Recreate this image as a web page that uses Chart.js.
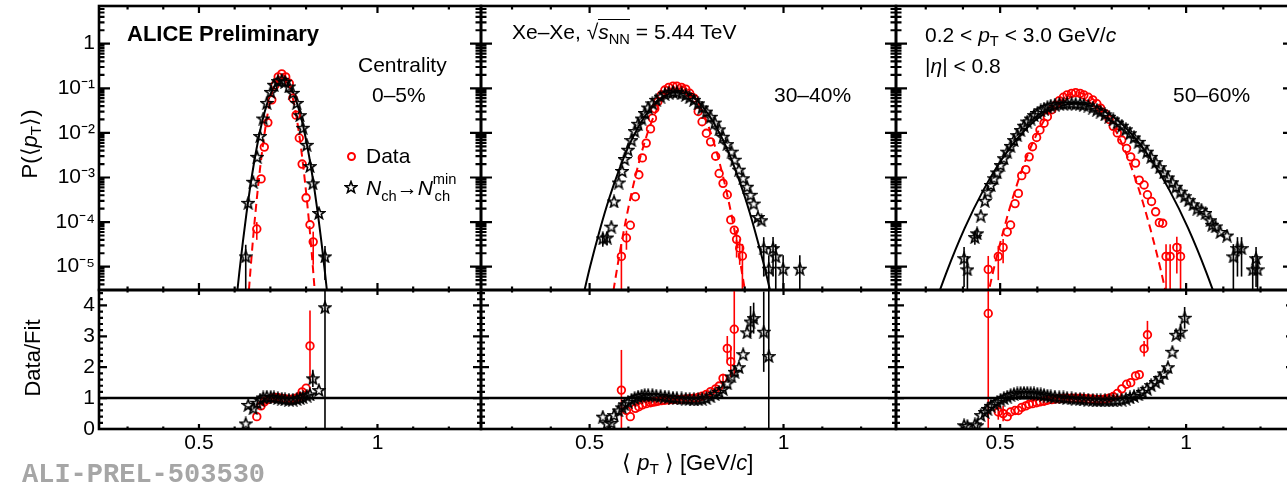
<!DOCTYPE html>
<html>
<head>
<meta charset="utf-8">
<script src="https://cdn.jsdelivr.net/npm/chart.js@4.4.1/dist/chart.umd.min.js"></script>
<style>
html, body { margin: 0; padding: 0; background: #fff; overflow: hidden; width: 1287px; height: 485px; }
#wrap { position: relative; width: 1287px; height: 485px; overflow: hidden;
        font-family: "Liberation Sans", Arial, Helvetica, sans-serif; color: #000; }
canvas.panel { position: absolute; left: -30px; top: -30px; width: 1360px; height: 545px; }
.t { position: absolute; white-space: nowrap; line-height: 1; font-size: 21px; }
.t sub, .t sup { line-height: 0; font-size: 70%; }
.t sub { vertical-align: -4px; }
.t sup { vertical-align: 11px; }
.rot { position: absolute; white-space: nowrap; line-height: 1; font-size: 22px;
       transform: translate(-50%, -50%) rotate(-90deg); }
.rot sub { line-height: 0; font-size: 70%; vertical-align: -4px; }
</style>
</head>
<body>
<div id="wrap">
  <canvas class="panel" id="c0top" width="1360" height="545"></canvas>
  <canvas class="panel" id="c0rat" width="1360" height="545"></canvas>
  <canvas class="panel" id="c3top" width="1360" height="545"></canvas>
  <canvas class="panel" id="c3rat" width="1360" height="545"></canvas>
  <canvas class="panel" id="c5top" width="1360" height="545"></canvas>
  <canvas class="panel" id="c5rat" width="1360" height="545"></canvas>

  <div class="t" style="left:127px; top:23px; font-size:22px; font-weight:bold;">ALICE Preliminary</div>
  <div class="t" style="left:358px; top:54px;">Centrality</div>
  <div class="t" style="left:372px; top:84px;">0–5%</div>
  <div id="legCircle" style="position:absolute; left:346.5px; top:151.5px; width:9px; height:9px; box-sizing:border-box; border:2px solid #f00; border-radius:50%;"></div>
  <div class="t" style="left:366px; top:145px;">Data</div>
  <div id="legStar" style="position:absolute; left:344px; top:180px; width:14px; height:14px;"></div>
  <div class="t" style="left:366px; top:177px;"><i>N</i><sub style="vertical-align:-6px">ch</sub>→<i>N</i><sup>min</sup><sub style="vertical-align:-6px; margin-left:-22px">ch</sub></div>

  <div class="t" style="left:512px; top:21px;">Xe–Xe, √<span style="border-top:1.5px solid #000;"><i>s</i><sub style="vertical-align:-5px">NN</sub></span> = 5.44 TeV</div>
  <div class="t" style="left:774px; top:84px;">30–40%</div>

  <div class="t" style="left:925px; top:24px;">0.2 &lt; <i>p</i><sub>T</sub> &lt; 3.0 GeV/<i>c</i></div>
  <div class="t" style="left:925px; top:55px;">|<i>η</i>| &lt; 0.8</div>
  <div class="t" style="left:1173px; top:84px;">50–60%</div>

  <div class="rot" style="left:30px; top:144px;">P(⟨<i>p</i><sub>T</sub>⟩)</div>
  <div class="rot" style="left:33px; top:358px;">Data/Fit</div>
  <div class="t" style="left:622px; top:452px; font-size:22px;">⟨ <i>p</i><sub>T</sub> ⟩ [GeV/<i>c</i>]</div>
  <div class="t" style="left:22px; top:462px; font-family:'Liberation Mono','Courier New',monospace; font-weight:bold; font-size:27px; color:#a6a6a6;">ALI-PREL-503530</div>
</div>

<script>
// ---- axis ranges and ticks ----
const X_MIN = 0.22, X_MAX = 1.29;
const Y_LOG_MIN = 3e-6, Y_LOG_MAX = 7;
const R_MIN = 0, R_MAX = 4.5;

const xTickVals = [0.5, 1];
const xTickLabels = ['0.5', '1'];
const xMinorTicks = [0.3, 0.4, 0.6, 0.7, 0.8, 0.9, 1.1, 1.2];
const logTickVals = [1, 0.1, 0.01, 0.001, 1e-4, 1e-5];
const logTickLabels = ['1', '10⁻¹', '10⁻²', '10⁻³', '10⁻⁴', '10⁻⁵'];
const ratioTickVals = [0, 1, 2, 3, 4];
const ratioTickLabels = ['0', '1', '2', '3', '4'];

// ---- 0-5% ----
const c0DataX = [0.662, 0.674, 0.683, 0.693, 0.704, 0.713, 0.722, 0.732, 0.743, 0.753, 0.763, 0.772, 0.781, 0.789, 0.800, 0.811, 0.820];
const c0DataY = [7e-5, 9.3e-4, 4.8e-3, 1.7e-2, 5.5e-2, 0.118, 0.18, 0.21, 0.18, 0.13, 0.06, 0.025, 7.7e-3, 2e-3, 3.5e-4, 8.7e-5, 3.6e-5];
const c0DataErr = {0: 3e-5, 16: 2.5e-5};
const c0DataRatio = [0.4, 0.75, 0.88, 0.95, 1.0, 1.02, 1.01, 0.99, 0.97, 0.96, 0.97, 1.0, 1.05, 1.2, 1.32, 2.69, 6.0];
const c0DataRatioErr = {15: 1.15};
const c0StarX = [0.631, 0.638, 0.652, 0.663, 0.671, 0.680, 0.690, 0.701, 0.710, 0.721, 0.732, 0.741, 0.752, 0.763, 0.774, 0.783, 0.791, 0.802, 0.811, 0.819, 0.836, 0.853];
const c0StarY = [1.7e-5, 2.7e-4, 8e-4, 2.9e-3, 8.5e-3, 0.021, 0.047, 0.083, 0.12, 0.145, 0.155, 0.14, 0.11, 0.079, 0.047, 0.025, 0.013, 5.4e-3, 1.8e-3, 7.4e-4, 1.6e-4, 1.7e-5];
const c0StarErr = {0: 1.4e-5, 21: 1.2e-5};
const c0StarRatio = [0.18, 0.78, 0.67, 0.85, 0.95, 1.02, 1.05, 1.04, 1.02, 1.0, 0.98, 0.96, 0.95, 0.95, 0.97, 1.0, 1.03, 1.08, 1.12, 1.64, 1.26, 3.94];
const c0StarRatioErr = {19: 0.28, 21: 6};
const c0FitX = [0.603, 0.613, 0.623, 0.633, 0.643, 0.653, 0.663, 0.673, 0.683, 0.693, 0.703, 0.713, 0.723, 0.733, 0.743, 0.753, 0.763, 0.773, 0.783, 0.793, 0.803, 0.813, 0.823, 0.833, 0.843, 0.853, 0.863];
const c0FitY = [1.3e-6, 7.4e-6, 3.6e-5, 1.55e-4, 5.75e-4, 1.86e-3, 5.2e-3, 0.0129, 0.0275, 0.051, 0.083, 0.117, 0.145, 0.155, 0.145, 0.117, 0.083, 0.051, 0.0275, 0.0129, 5.2e-3, 1.86e-3, 5.75e-4, 1.55e-4, 3.6e-5, 7.4e-6, 1.3e-6];
const c0RedFitX = [0.632, 0.642, 0.652, 0.662, 0.672, 0.682, 0.692, 0.702, 0.712, 0.722, 0.732, 0.742, 0.752, 0.762, 0.772, 0.782, 0.792, 0.802, 0.812, 0.822, 0.832];
const c0RedFitY = [4.1e-7, 4.9e-6, 4.7e-5, 3.3e-4, 1.82e-3, 7.8e-3, 0.0257, 0.0645, 0.123, 0.182, 0.209, 0.182, 0.123, 0.0645, 0.0257, 7.8e-3, 1.82e-3, 3.3e-4, 4.7e-5, 4.9e-6, 4.1e-7];

// ---- 30-40% ----
const c3DataX = [0.582, 0.595, 0.605, 0.618, 0.627, 0.636, 0.646, 0.657, 0.662, 0.668, 0.676, 0.685, 0.694, 0.704, 0.715, 0.725, 0.737, 0.748, 0.758, 0.769, 0.780, 0.790, 0.801, 0.812, 0.825, 0.834, 0.844, 0.855, 0.864, 0.873, 0.879, 0.887, 0.894];
const c3DataY = [1.7e-5, 4.4e-5, 8.5e-5, 3.7e-4, 1.15e-3, 2.75e-3, 5.9e-3, 0.0123, 0.0214, 0.0347, 0.05, 0.0708, 0.0912, 0.105, 0.112, 0.112, 0.105, 0.0955, 0.0776, 0.0603, 0.0302, 0.0178, 9.8e-3, 6.3e-3, 3e-3, 1.23e-3, 7.4e-4, 4.1e-4, 1.12e-4, 6.6e-5, 4.1e-5, 2.6e-5, 1.74e-5];
const c3DataErr = {0: 1.5e-5, 1: 2e-5, 30: 2.5e-5, 31: 1.5e-5, 32: 1.5e-5};
const c3DataRatio = [1.26, 0.6, 0.4, 0.67, 0.72, 0.78, 0.82, 0.85, 0.87, 0.88, 0.9, 0.92, 0.93, 0.94, 0.95, 0.96, 0.96, 0.97, 0.98, 1.0, 1.02, 1.06, 1.12, 1.21, 1.3, 1.39, 1.64, 2.61, 2.18, 3.23, 5.5, 7, 9];
const c3DataRatioErr = {0: 1.3, 26: 0.15, 27: 0.4, 28: 0.5, 29: 1.5};
const c3StarX = [0.534, 0.545, 0.556, 0.563, 0.575, 0.584, 0.590, 0.599, 0.608, 0.616, 0.625, 0.634, 0.642, 0.651, 0.662, 0.672, 0.683, 0.694, 0.704, 0.715, 0.725, 0.737, 0.748, 0.758, 0.769, 0.780, 0.790, 0.801, 0.812, 0.823, 0.834, 0.844, 0.855, 0.866, 0.874, 0.885, 0.896, 0.906, 0.915, 0.923, 0.934, 0.943, 0.949, 0.962, 0.973, 0.980, 0.999, 1.042];
const c3StarY = [4.3e-5, 4.5e-5, 7.9e-5, 2.9e-4, 7.7e-4, 1.4e-3, 2.6e-3, 4.2e-3, 6.9e-3, 0.011, 0.016, 0.021, 0.028, 0.037, 0.046, 0.055, 0.065, 0.074, 0.08, 0.083, 0.082, 0.077, 0.071, 0.063, 0.055, 0.046, 0.037, 0.03, 0.023, 0.017, 0.012, 8.2e-3, 5.6e-3, 3.8e-3, 2.5e-3, 1.5e-3, 9.6e-4, 6.2e-4, 4.1e-4, 2.6e-4, 1.3e-4, 1.1e-4, 2.6e-5, 9e-6, 2.6e-5, 1.7e-5, 9e-6, 9e-6];
const c3StarErr = {0: 1.5e-5, 1: 1.5e-5, 42: 2e-5, 43: 9e-6, 44: 2e-5, 45: 1.5e-5, 46: 9e-6, 47: 9e-6};
const c3StarRatio = [0.4, 0.18, 0.2, 0.45, 0.6, 0.7, 0.8, 0.88, 0.95, 1.0, 1.05, 1.08, 1.1, 1.1, 1.1, 1.08, 1.07, 1.05, 1.03, 1.01, 1.0, 0.99, 0.98, 0.97, 0.96, 0.96, 0.98, 1.0, 1.06, 1.13, 1.2, 1.3, 1.48, 1.7, 1.85, 2.0, 2.42, 3.13, 3.48, 3.59, 5.0, 6.0, 3.15, 2.36, 8, 9, 12, 30];
const c3StarRatioErr = {38: 0.5, 39: 0.5, 42: 1.3, 43: 6};
const c3FitX = [0.476, 0.501, 0.526, 0.551, 0.576, 0.601, 0.626, 0.651, 0.676, 0.701, 0.726, 0.751, 0.776, 0.801, 0.826, 0.851, 0.876, 0.901, 0.926, 0.951, 0.976];
const c3FitY = [1.15e-6, 9.8e-6, 6.5e-5, 3.5e-4, 1.48e-3, 5.1e-3, 0.0138, 0.0302, 0.0537, 0.0741, 0.0832, 0.0741, 0.0537, 0.0302, 0.0138, 5.1e-3, 1.48e-3, 3.5e-4, 6.5e-5, 9.8e-6, 1.15e-6];
const c3RedFitX = [0.556, 0.581, 0.606, 0.631, 0.656, 0.681, 0.706, 0.731, 0.756, 0.781, 0.806, 0.831, 0.856, 0.881, 0.906];
const c3RedFitY = [1.5e-6, 2.95e-5, 3.7e-4, 2.9e-3, 0.0145, 0.0447, 0.089, 0.112, 0.089, 0.0447, 0.0145, 2.9e-3, 3.7e-4, 2.95e-5, 1.5e-6];

// ---- 50-60% ----
const c5DataX = [0.468, 0.495, 0.508, 0.519, 0.528, 0.540, 0.549, 0.558, 0.569, 0.578, 0.587, 0.598, 0.607, 0.618, 0.627, 0.639, 0.649, 0.659, 0.670, 0.680, 0.692, 0.703, 0.715, 0.725, 0.737, 0.749, 0.760, 0.770, 0.782, 0.793, 0.804, 0.815, 0.827, 0.840, 0.851, 0.864, 0.874, 0.887, 0.896, 0.907, 0.918, 0.928, 0.937, 0.946, 0.957, 0.975, 0.985];
const c5DataY = [8.7e-6, 1.7e-5, 2.7e-5, 6e-5, 8.6e-5, 2.6e-4, 4.4e-4, 1.1e-3, 1.5e-3, 2.9e-3, 4.9e-3, 7.9e-3, 0.0116, 0.0165, 0.023, 0.033, 0.042, 0.053, 0.063, 0.071, 0.077, 0.08, 0.077, 0.071, 0.063, 0.055, 0.045, 0.036, 0.027, 0.02, 0.014, 0.01, 6.9e-3, 4.5e-3, 2.9e-3, 2.1e-3, 8.7e-4, 6.8e-4, 4.1e-4, 2.9e-4, 1.7e-4, 9.7e-5, 9.4e-5, 1.7e-5, 1.7e-5, 2.7e-5, 1.7e-5];
const c5DataErr = {0: 8.7e-6, 1: 1.2e-5, 2: 1.5e-5, 43: 1.5e-5, 44: 1.5e-5, 45: 2e-5, 46: 1.5e-5};
const c5DataRatio = [3.74, 0.55, 0.5, 0.4, 0.55, 0.6, 0.6, 0.7, 0.75, 0.8, 0.82, 0.85, 0.88, 0.9, 0.93, 0.95, 0.97, 0.98, 0.99, 1.0, 1.0, 1.0, 1.0, 0.99, 0.98, 0.97, 0.96, 0.96, 0.97, 1.0, 1.05, 1.15, 1.3, 1.45, 1.5, 1.72, 1.76, 2.6, 3.05, 5, 6, 8, 9, 10, 15, 20, 30];
const c5DataRatioErr = {0: 6, 1: 0.25, 2: 0.25, 37: 0.25, 38: 0.45};
const c5StarX = [0.403, 0.412, 0.432, 0.438, 0.448, 0.459, 0.466, 0.475, 0.484, 0.492, 0.501, 0.510, 0.519, 0.528, 0.537, 0.546, 0.555, 0.564, 0.573, 0.582, 0.591, 0.600, 0.609, 0.618, 0.627, 0.636, 0.647, 0.659, 0.670, 0.680, 0.692, 0.703, 0.715, 0.725, 0.737, 0.749, 0.760, 0.770, 0.782, 0.793, 0.804, 0.815, 0.827, 0.838, 0.849, 0.860, 0.872, 0.883, 0.895, 0.906, 0.918, 0.929, 0.940, 0.951, 0.963, 0.973, 0.985, 0.996, 1.007, 1.019, 1.030, 1.041, 1.052, 1.065, 1.070, 1.079, 1.092, 1.110, 1.127, 1.138, 1.149, 1.179, 1.188, 1.192];
const c5StarY = [1.55e-5, 8.7e-6, 4.6e-5, 5.6e-5, 1.4e-4, 3e-4, 4.8e-4, 6.8e-4, 9.6e-4, 1.3e-3, 1.9e-3, 2.7e-3, 3.8e-3, 5.1e-3, 6.9e-3, 8.9e-3, 0.0116, 0.0145, 0.018, 0.021, 0.025, 0.028, 0.032, 0.035, 0.038, 0.041, 0.043, 0.045, 0.045, 0.046, 0.046, 0.045, 0.045, 0.043, 0.041, 0.037, 0.033, 0.03, 0.026, 0.023, 0.02, 0.017, 0.0145, 0.012, 9.8e-3, 7.9e-3, 6.3e-3, 4.9e-3, 3.8e-3, 2.9e-3, 2.2e-3, 1.7e-3, 1.3e-3, 1e-3, 7.8e-4, 6.2e-4, 4.8e-4, 3.8e-4, 3.1e-4, 2.5e-4, 2e-4, 1.9e-4, 1.6e-4, 1.1e-4, 8.7e-5, 8e-5, 6e-5, 5e-5, 1.7e-5, 2.6e-5, 2.6e-5, 8.7e-6, 1.55e-5, 8.7e-6];
const c5StarErr = {0: 1.2e-5, 1: 8.7e-6, 2: 1.5e-5, 3: 1.5e-5, 68: 1.5e-5, 69: 2e-5, 70: 2e-5, 71: 8.7e-6, 72: 1.2e-5, 73: 8.7e-6};
const c5StarRatio = [0.12, 0.1, 0.15, 0.12, 0.45, 0.55, 0.65, 0.75, 0.82, 0.88, 0.95, 1.0, 1.05, 1.1, 1.13, 1.15, 1.17, 1.17, 1.17, 1.16, 1.15, 1.14, 1.12, 1.1, 1.08, 1.06, 1.05, 1.03, 1.02, 1.0, 0.99, 0.98, 0.97, 0.96, 0.95, 0.94, 0.93, 0.93, 0.93, 0.93, 0.93, 0.94, 0.95, 0.98, 1.02, 1.07, 1.12, 1.2, 1.3, 1.42, 1.52, 1.65, 1.8, 2.0, 2.5, 3.05, 3.15, 3.6, 4.8, 5.5, 6, 7, 8, 9, 10, 11, 12, 14, 16, 18, 20, 30, 35, 40];
const c5StarRatioErr = {56: 0.25, 57: 0.35};
const c5FitX = [0.305, 0.355, 0.405, 0.455, 0.505, 0.555, 0.605, 0.655, 0.705, 0.755, 0.805, 0.855, 0.905, 0.955, 1.005, 1.055, 1.105];
const c5FitY = [5e-7, 7.2e-6, 7.4e-5, 5.2e-4, 2.6e-3, 9.1e-3, 0.0224, 0.0382, 0.0457, 0.0382, 0.0224, 9.1e-3, 2.6e-3, 5.2e-4, 7.4e-5, 7.2e-6, 5e-7];
const c5RedFitX = [0.457, 0.482, 0.507, 0.532, 0.557, 0.582, 0.607, 0.632, 0.657, 0.682, 0.707, 0.732, 0.757, 0.782, 0.807, 0.832, 0.857, 0.882, 0.907, 0.932, 0.957];
const c5RedFitY = [9.5e-7, 8.3e-6, 5.6e-5, 3.1e-4, 1.35e-3, 4.7e-3, 0.0129, 0.0287, 0.0503, 0.0708, 0.0794, 0.0708, 0.0503, 0.0287, 0.0129, 4.7e-3, 1.35e-3, 3.1e-4, 5.6e-5, 8.3e-6, 9.5e-7];

// reference line in ratio panels
const unityX = [X_MIN, X_MAX];
const unityY = [1, 1];

// ---- layout (frame boxes in page pixels; canvases sit 30px up/left of the page) ----
const OFF = 30;
const CANVAS_W = 1360, CANVAS_H = 545;
const COLS = [[99, 481], [481, 896], [896, 1294]];
const TOP_ROW = [6, 290], RATIO_ROW = [290, 429];
const Y_AXIS_W = 70, X_AXIS_H = 34;
const RED = '#ff0000', BLACK = '#000000';

Chart.defaults.font.family = '"Liberation Sans", Arial, Helvetica, sans-serif';
Chart.defaults.font.size = 21;
Chart.defaults.color = '#000';

// open star marker
function makeStar() {
  const c = document.createElement('canvas');
  c.width = 14; c.height = 14;
  const g = c.getContext('2d');
  g.beginPath();
  for (let i = 0; i < 10; i++) {
    const r = i % 2 ? 2.5 : 6;
    const a = -Math.PI / 2 + i * Math.PI / 5;
    const px = 7 + r * Math.cos(a), py = 7.6 + r * Math.sin(a);
    if (i) g.lineTo(px, py); else g.moveTo(px, py);
  }
  g.closePath();
  g.lineWidth = 1.6;
  g.strokeStyle = BLACK;
  g.stroke();
  return c;
}
const STAR = makeStar();
document.getElementById('legStar').appendChild(makeStar());

function pts(xs, ys) { return xs.map((x, i) => ({x: x, y: ys[i]})); }

function markers(xs, ys, err, kind) {
  const star = kind === 'star';
  return {
    data: pts(xs, ys), errY: err || {}, showLine: false,
    pointStyle: star ? STAR : 'circle', pointRadius: star ? 5 : 3.8,
    pointBorderColor: star ? BLACK : RED, pointBackgroundColor: 'rgba(0,0,0,0)',
    pointBorderWidth: 1.8, borderColor: star ? BLACK : RED
  };
}

function curve(xs, ys, color, dash, width) {
  return {
    data: pts(xs, ys), showLine: true, pointRadius: 0, borderColor: color,
    borderWidth: width || 2, borderDash: dash || [], cubicInterpolationMode: 'monotone', fill: false
  };
}

// error bars read from dataset.errY
const errorBars = {
  id: 'errorBars',
  beforeDatasetsDraw(chart) {
    const {ctx, chartArea: a} = chart;
    const x = chart.scales.x, y = chart.scales.y;
    ctx.save();
    ctx.beginPath();
    ctx.rect(a.left, a.top, a.right - a.left, a.bottom - a.top);
    ctx.clip();
    chart.data.datasets.forEach(ds => {
      if (!ds.errY) return;
      ctx.strokeStyle = ds.pointBorderColor;
      ctx.lineWidth = 1.6;
      ds.data.forEach((p, i) => {
        const e = ds.errY[i];
        if (!e) return;
        const px = x.getPixelForValue(p.x);
        const lo = p.y - e;
        let yLo = (y.type === 'logarithmic' && lo <= 0) ? a.bottom + 2 : y.getPixelForValue(lo);
        let yHi = y.getPixelForValue(p.y + e);
        yLo = Math.min(yLo, a.bottom + 2);
        yHi = Math.max(yHi, a.top - 2);
        ctx.beginPath();
        ctx.moveTo(px, yLo);
        ctx.lineTo(px, yHi);
        ctx.stroke();
      });
    });
    ctx.restore();
  }
};

// frame with inward ticks on all four sides
function frameTicks(cfg) {
  return {
    id: 'frameTicks',
    afterDraw(chart) {
      const {ctx, chartArea: a} = chart;
      const x = chart.scales.x, y = chart.scales.y;
      ctx.save();
      ctx.strokeStyle = BLACK;
      ctx.lineWidth = 2.2;
      ctx.beginPath();
      const hx = (vals, len) => vals.forEach(v => {
        const p = x.getPixelForValue(v);
        ctx.moveTo(p, a.bottom); ctx.lineTo(p, a.bottom - len);
        ctx.moveTo(p, a.top); ctx.lineTo(p, a.top + len);
      });
      const vy = (vals, len) => vals.forEach(v => {
        const p = y.getPixelForValue(v);
        ctx.moveTo(a.left, p); ctx.lineTo(a.left + len, p);
        ctx.moveTo(a.right, p); ctx.lineTo(a.right - len, p);
      });
      hx(xTickVals, cfg.xMaj); hx(xMinorTicks, cfg.xMin);
      vy(cfg.yMajor, cfg.yMaj); vy(cfg.yMinor, cfg.yMin);
      ctx.stroke();
      ctx.lineWidth = 2.6;
      ctx.strokeRect(a.left, a.top, a.right - a.left, a.bottom - a.top);
      ctx.restore();
    }
  };
}

const logMinorTicks = [];
for (let e = -6; e <= 0; e++) {
  for (let k = 2; k <= 9; k++) {
    const v = k * Math.pow(10, e);
    if (v > Y_LOG_MIN && v < Y_LOG_MAX) logMinorTicks.push(v);
  }
}
const ratioMinorTicks = [];
for (let i = 1; i < 23; i++) if (i % 5) ratioMinorTicks.push(i / 5);

function panel(id, col, isTop, datasets) {
  const L = COLS[col][0] + OFF, R = COLS[col][1] + OFF;
  const T = (isTop ? TOP_ROW : RATIO_ROW)[0] + OFF, B = (isTop ? TOP_ROW : RATIO_ROW)[1] + OFF;
  const showY = col === 0, showX = !isTop;
  const yVals = isTop ? logTickVals : ratioTickVals;
  const yLabels = isTop ? logTickLabels : ratioTickLabels;
  const pad = {
    left: showY ? L - Y_AXIS_W : L,
    right: CANVAS_W - R,
    top: T,
    bottom: showX ? CANVAS_H - B - X_AXIS_H : CANVAS_H - B
  };
  const chart = new Chart(document.getElementById(id), {
    type: 'scatter',
    data: {datasets: datasets},
    options: {
      responsive: false, animation: false, devicePixelRatio: 1,
      layout: {padding: pad, autoPadding: false},
      plugins: {legend: {display: false}, tooltip: {enabled: false}},
      scales: {
        x: {
          type: 'linear', bounds: 'data', min: X_MIN, max: X_MAX, display: showX,
          grid: {display: false, drawTicks: false}, border: {display: false},
          ticks: {autoSkip: false, maxRotation: 0, padding: 2, font: {size: 21},
                  callback: v => xTickLabels[xTickVals.indexOf(v)]},
          afterBuildTicks: s => { s.ticks = xTickVals.map(v => ({value: v})); },
          afterFit: s => { if (showX) s.height = X_AXIS_H; }
        },
        y: {
          type: isTop ? 'logarithmic' : 'linear', bounds: 'data',
          min: isTop ? Y_LOG_MIN : R_MIN, max: isTop ? Y_LOG_MAX : R_MAX, display: showY,
          grid: {display: false, drawTicks: false}, border: {display: false},
          ticks: {autoSkip: false, padding: 4, font: {size: 21},
                  callback: v => yLabels[yVals.indexOf(v)]},
          afterBuildTicks: s => { s.ticks = yVals.map(v => ({value: v})); },
          afterFit: s => { if (showY) s.width = Y_AXIS_W; }
        }
      }
    },
    plugins: [errorBars, frameTicks(isTop
      ? {xMaj: 7, xMin: 3.5, yMajor: logTickVals, yMinor: logMinorTicks, yMaj: 11, yMin: 5.5}
      : {xMaj: 5, xMin: 2.5, yMajor: ratioTickVals, yMinor: ratioMinorTicks, yMaj: 8, yMin: 4})]
  });
  // one correction pass so the plot area lands exactly on the frame box
  const a = chart.chartArea;
  const dl = L - a.left, dt = T - a.top, dr = a.right - R, db = a.bottom - B;
  if (Math.abs(dl) + Math.abs(dt) + Math.abs(dr) + Math.abs(db) > 0.5) {
    chart.options.layout.padding = {
      left: pad.left + dl, top: pad.top + dt, right: pad.right + dr, bottom: pad.bottom + db
    };
    chart.update();
  }
  return chart;
}

document.addEventListener('DOMContentLoaded', () => {
  panel('c0top', 0, true, [
    markers(c0StarX, c0StarY, c0StarErr, 'star'),
    markers(c0DataX, c0DataY, c0DataErr, 'circle'),
    curve(c0FitX, c0FitY, BLACK),
    curve(c0RedFitX, c0RedFitY, RED, [8, 5])
  ]);
  panel('c0rat', 0, false, [
    markers(c0StarX, c0StarRatio, c0StarRatioErr, 'star'),
    markers(c0DataX, c0DataRatio, c0DataRatioErr, 'circle'),
    curve(unityX, unityY, BLACK, [], 2.5)
  ]);
  panel('c3top', 1, true, [
    markers(c3StarX, c3StarY, c3StarErr, 'star'),
    markers(c3DataX, c3DataY, c3DataErr, 'circle'),
    curve(c3FitX, c3FitY, BLACK),
    curve(c3RedFitX, c3RedFitY, RED, [8, 5])
  ]);
  panel('c3rat', 1, false, [
    markers(c3StarX, c3StarRatio, c3StarRatioErr, 'star'),
    markers(c3DataX, c3DataRatio, c3DataRatioErr, 'circle'),
    curve(unityX, unityY, BLACK, [], 2.5)
  ]);
  panel('c5top', 2, true, [
    markers(c5StarX, c5StarY, c5StarErr, 'star'),
    markers(c5DataX, c5DataY, c5DataErr, 'circle'),
    curve(c5FitX, c5FitY, BLACK),
    curve(c5RedFitX, c5RedFitY, RED, [8, 5])
  ]);
  panel('c5rat', 2, false, [
    markers(c5StarX, c5StarRatio, c5StarRatioErr, 'star'),
    markers(c5DataX, c5DataRatio, c5DataRatioErr, 'circle'),
    curve(unityX, unityY, BLACK, [], 2.5)
  ]);
});
</script>
</body>
</html>
